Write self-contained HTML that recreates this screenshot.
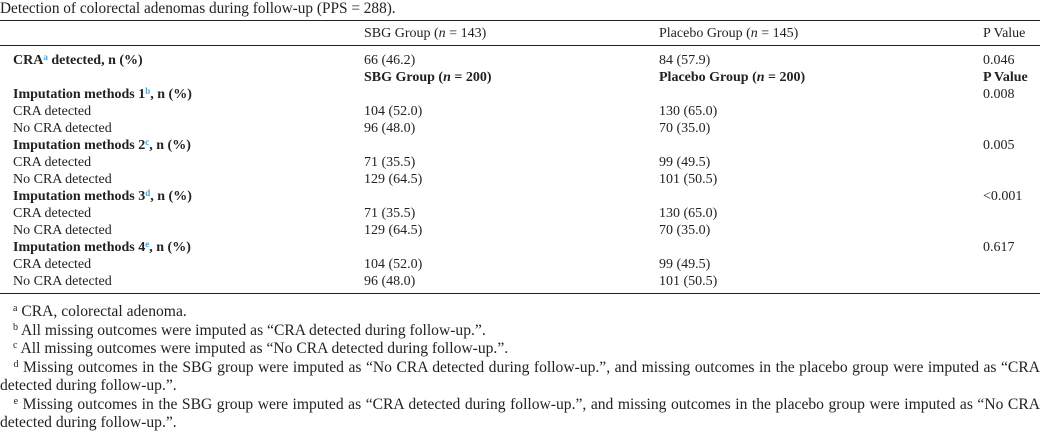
<!DOCTYPE html>
<html><head><meta charset="utf-8"><style>
body{margin:0;width:1048px;height:438px;background:#fff;font-family:"Liberation Serif",serif;color:#222;position:relative;overflow:hidden}
.t{position:absolute;white-space:nowrap;font-size:14px;line-height:17px}
.b{font-weight:bold}
.f{position:absolute;white-space:nowrap;font-size:15.6px;line-height:18px}
.j{position:absolute;left:0;width:1040px;font-size:15.6px;line-height:18px;text-align:justify;text-align-last:justify;white-space:nowrap}
.r{position:absolute;left:0;width:1040px;height:1px;background:#222}
sup{font-size:9px;vertical-align:top;position:relative;top:-3px;color:#4aa3d8}
.fs{font-size:10px;vertical-align:top;position:relative;top:-3px}
</style></head><body>
<div class="f" style="left:0;top:0;font-size:15.3px">Detection of colorectal adenomas during follow-up (PPS = 288).</div>
<div class="r" style="top:20px"></div>
<div class="t" style="left:364px;top:25px">SBG Group (<i>n</i> = 143)</div>
<div class="t" style="left:659px;top:25px">Placebo Group (<i>n</i> = 145)</div>
<div class="t" style="left:983px;top:25px">P Value</div>
<div class="r" style="top:45px"></div>
<div class="t b" style="left:13px;top:52px">CRA<sup>a</sup> detected, n (%)</div>
<div class="t" style="left:364px;top:52px">66 (46.2)</div>
<div class="t" style="left:659px;top:52px">84 (57.9)</div>
<div class="t" style="left:983px;top:52px">0.046</div>
<div class="t b" style="left:364px;top:69px">SBG Group (<i>n</i> = 200)</div>
<div class="t b" style="left:659px;top:69px">Placebo Group (<i>n</i> = 200)</div>
<div class="t b" style="left:983px;top:69px">P Value</div>

<div class="t b" style="left:13px;top:86px">Imputation methods 1<sup>b</sup>, n (%)</div>
<div class="t" style="left:983px;top:86px">0.008</div>
<div class="t" style="left:13px;top:103px">CRA detected</div><div class="t" style="left:364px;top:103px">104 (52.0)</div><div class="t" style="left:659px;top:103px">130 (65.0)</div>
<div class="t" style="left:13px;top:120px">No CRA detected</div><div class="t" style="left:364px;top:120px">96 (48.0)</div><div class="t" style="left:659px;top:120px">70 (35.0)</div>

<div class="t b" style="left:13px;top:137px">Imputation methods 2<sup>c</sup>, n (%)</div>
<div class="t" style="left:983px;top:137px">0.005</div>
<div class="t" style="left:13px;top:154px">CRA detected</div><div class="t" style="left:364px;top:154px">71 (35.5)</div><div class="t" style="left:659px;top:154px">99 (49.5)</div>
<div class="t" style="left:13px;top:171px">No CRA detected</div><div class="t" style="left:364px;top:171px">129 (64.5)</div><div class="t" style="left:659px;top:171px">101 (50.5)</div>

<div class="t b" style="left:13px;top:188px">Imputation methods 3<sup>d</sup>, n (%)</div>
<div class="t" style="left:983px;top:188px">&lt;0.001</div>
<div class="t" style="left:13px;top:205px">CRA detected</div><div class="t" style="left:364px;top:205px">71 (35.5)</div><div class="t" style="left:659px;top:205px">130 (65.0)</div>
<div class="t" style="left:13px;top:222px">No CRA detected</div><div class="t" style="left:364px;top:222px">129 (64.5)</div><div class="t" style="left:659px;top:222px">70 (35.0)</div>

<div class="t b" style="left:13px;top:239px">Imputation methods 4<sup>e</sup>, n (%)</div>
<div class="t" style="left:983px;top:239px">0.617</div>
<div class="t" style="left:13px;top:256px">CRA detected</div><div class="t" style="left:364px;top:256px">104 (52.0)</div><div class="t" style="left:659px;top:256px">99 (49.5)</div>
<div class="t" style="left:13px;top:273px">No CRA detected</div><div class="t" style="left:364px;top:273px">96 (48.0)</div><div class="t" style="left:659px;top:273px">101 (50.5)</div>
<div class="r" style="top:293px"></div>

<div class="f" style="left:13px;top:303px"><span class="fs">a</span> CRA, colorectal adenoma.</div>
<div class="f" style="left:13px;top:322px"><span class="fs">b</span> All missing outcomes were imputed as “CRA detected during follow-up.”.</div>
<div class="f" style="left:13px;top:340px"><span class="fs">c</span> All missing outcomes were imputed as “No CRA detected during follow-up.”.</div>
<div class="j" style="top:359px">&nbsp;&nbsp;&nbsp;<span class="fs">d</span> Missing outcomes in the SBG group were imputed as “No CRA detected during follow-up.”, and missing outcomes in the placebo group were imputed as “CRA</div>
<div class="f" style="left:0;top:377px">detected during follow-up.”.</div>
<div class="j" style="top:396px">&nbsp;&nbsp;&nbsp;<span class="fs">e</span> Missing outcomes in the SBG group were imputed as “CRA detected during follow-up.”, and missing outcomes in the placebo group were imputed as “No CRA</div>
<div class="f" style="left:0;top:414px">detected during follow-up.”.</div>
</body></html>
